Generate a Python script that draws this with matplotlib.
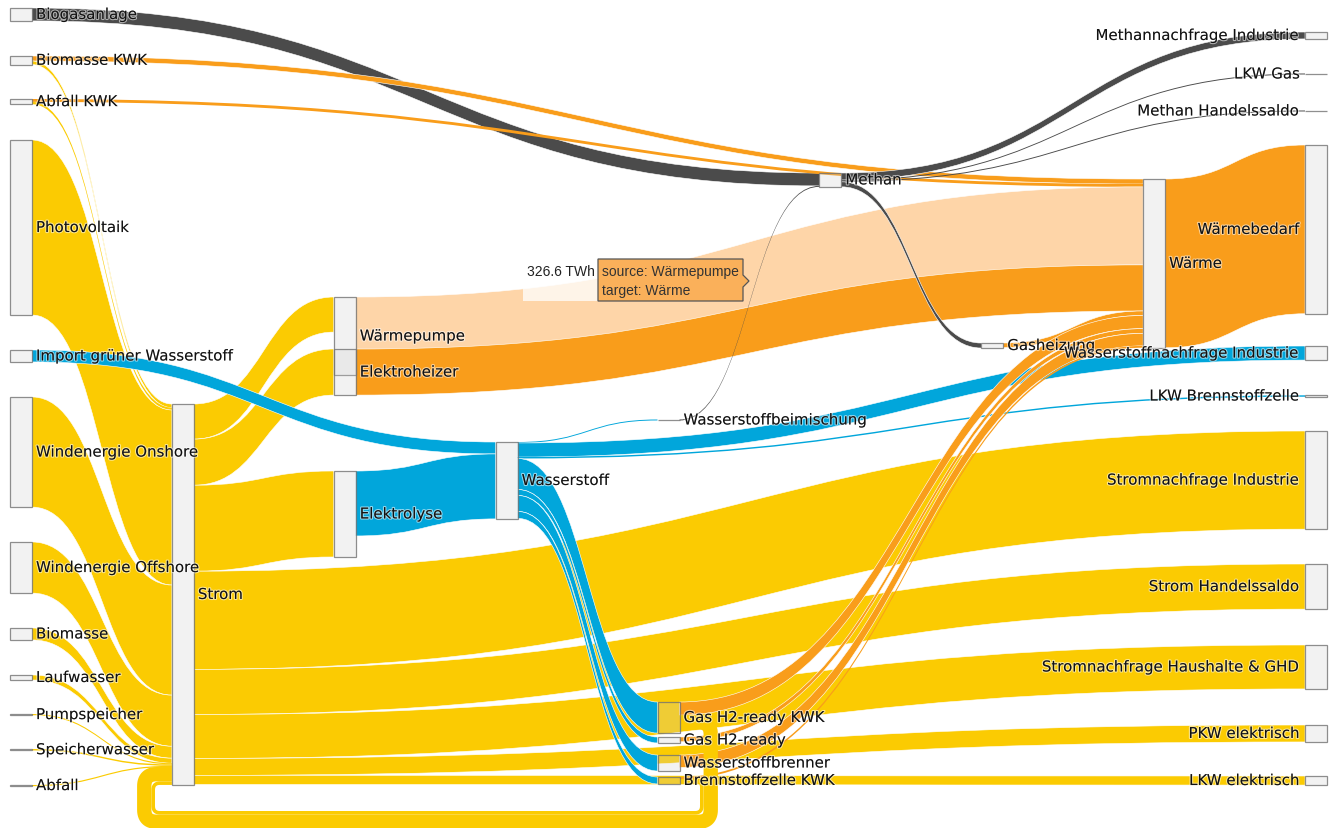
import matplotlib
matplotlib.use('Agg')
import matplotlib.pyplot as plt
from matplotlib.path import Path
from matplotlib.patches import PathPatch, Rectangle, Polygon
import matplotlib.patheffects as pe
import numpy as np

# Knoten (Spalte und obere Kante in Pixel, wie node.x / node.y im Original)
node_names = ['Biogasanlage', 'Biomasse KWK', 'Abfall KWK', 'Photovoltaik',
              'Import grüner Wasserstoff', 'Windenergie Onshore', 'Windenergie Offshore',
              'Biomasse', 'Laufwasser', 'Pumpspeicher', 'Speicherwasser', 'Abfall',
              'Strom', 'Wärmepumpe', 'Elektroheizer', 'Elektrolyse', 'Wasserstoff',
              'Wasserstoffbeimischung', 'Gas H2-ready KWK', 'Gas H2-ready',
              'Wasserstoffbrenner', 'Brennstoffzelle KWK', 'Methan', 'Gasheizung', 'Wärme',
              'Methannachfrage Industrie', 'LKW Gas', 'Methan Handelssaldo', 'Wärmebedarf',
              'Wasserstoffnachfrage Industrie', 'LKW Brennstoffzelle', 'Stromnachfrage Industrie',
              'Strom Handelssaldo', 'Stromnachfrage Haushalte & GHD', 'PKW elektrisch',
              'LKW elektrisch']
node_col = [0, 0, 0, 0, 0, 0, 0, 0, 0, 0, 0, 0,
            1, 2, 2, 2, 3, 4, 4, 4, 4, 4, 5, 6, 7,
            8, 8, 8, 8, 8, 8, 8, 8, 8, 8, 8]
node_top = [9, 57, 100, 141, 351, 398, 543, 629, 676, 715, 750, 786,
            405, 298, 350, 472, 443, 420.5, 703, 738, 756, 778, 174, 344, 180,
            33, 74.5, 111.5, 146, 347, 396.3, 432, 565, 646, 726, 777]

# Flüsse in TWh
link_source = ['Biogasanlage', 'Biomasse KWK', 'Biomasse KWK', 'Abfall KWK', 'Abfall KWK',
               'Photovoltaik', 'Windenergie Onshore', 'Windenergie Offshore', 'Biomasse',
               'Laufwasser', 'Pumpspeicher', 'Speicherwasser', 'Abfall',
               'Strom', 'Strom', 'Strom', 'Strom', 'Strom', 'Strom', 'Strom', 'Strom',
               'Import grüner Wasserstoff', 'Elektrolyse', 'Wärmepumpe', 'Elektroheizer',
               'Wasserstoff', 'Wasserstoff', 'Wasserstoff', 'Wasserstoff', 'Wasserstoff',
               'Wasserstoff', 'Wasserstoff', 'Wasserstoffbeimischung',
               'Methan', 'Methan', 'Methan', 'Methan', 'Gasheizung',
               'Gas H2-ready KWK', 'Gas H2-ready', 'Wasserstoffbrenner', 'Brennstoffzelle KWK',
               'Gas H2-ready KWK', 'Brennstoffzelle KWK', 'Wärme']
link_target = ['Methan', 'Wärme', 'Strom', 'Wärme', 'Strom',
               'Strom', 'Strom', 'Strom', 'Strom', 'Strom', 'Strom', 'Strom', 'Strom',
               'Wärmepumpe', 'Elektroheizer', 'Elektrolyse', 'Stromnachfrage Industrie',
               'Strom Handelssaldo', 'Stromnachfrage Haushalte & GHD', 'PKW elektrisch',
               'LKW elektrisch',
               'Wasserstoff', 'Wasserstoff', 'Wärme', 'Wärme',
               'Wasserstoffbeimischung', 'Wasserstoffnachfrage Industrie', 'LKW Brennstoffzelle',
               'Gas H2-ready KWK', 'Gas H2-ready', 'Wasserstoffbrenner', 'Brennstoffzelle KWK',
               'Methan',
               'Methannachfrage Industrie', 'LKW Gas', 'Methan Handelssaldo', 'Gasheizung',
               'Wärme', 'Wärme', 'Wärme', 'Wärme', 'Wärme',
               'Strom', 'Strom', 'Wärmebedarf']
link_value = [54, 21, 15, 12, 10,
              733, 461, 214, 50, 21, 5, 6, 5,
              147, 193, 360, 411, 189, 184, 71, 38,
              50, 272, 326.6, 193,
              4, 59, 6, 130, 25, 67, 29,
              4,
              29, 4, 4, 21,
              19, 55, 20, 52, 8,
              60, 15, 706.6]
link_kind = ['gas', 'heat', 'power', 'heat', 'power',
             'power', 'power', 'power', 'power', 'power', 'power', 'power', 'power',
             'power', 'power', 'power', 'power', 'power', 'power', 'power', 'power',
             'h2', 'h2', 'hover', 'heat',
             'h2', 'h2', 'h2', 'h2', 'h2', 'h2', 'h2',
             'gas',
             'gas', 'gas', 'gas', 'gas',
             'heat', 'heat', 'heat', 'heat', 'heat',
             'power', 'power', 'heat']

colors = {'power': '#fbcb02', 'heat': '#f99d1b', 'h2': '#01a6db',
          'gas': '#4b4b4b', 'hover': '#fed5a8'}

W, H = 1336, 829
k = 78 / 326.6          # Pixel pro TWh
nw = 22                  # Knotenbreite
idx = {n: i for i, n in enumerate(node_names)}
nx = [10 + c * 161.875 for c in node_col]

n = len(node_names)
sin = np.zeros(n)
sout = np.zeros(n)
for s, t, v in zip(link_source, link_target, link_value):
    sout[idx[s]] += v
    sin[idx[t]] += v
nh = np.maximum(sin, sout) * k

fig = plt.figure(figsize=(W / 100, H / 100), dpi=100)
ax = fig.add_axes([0, 0, 1, 1])
ax.set_xlim(0, W)
ax.set_ylim(H, 0)
ax.axis('off')


def rounded(pts, radii):
    out = [pts[0]]
    for i in range(1, len(pts) - 1):
        p = np.array(pts[i], float)
        a = np.array(pts[i - 1], float)
        b = np.array(pts[i + 1], float)
        d1 = (p - a) / np.linalg.norm(p - a)
        d2 = (b - p) / np.linalg.norm(b - p)
        r = radii
        p0 = p - d1 * r
        p1 = p + d2 * r
        for t in np.linspace(0, 1, 14):
            q = (1 - t) ** 2 * p0 + 2 * (1 - t) * t * p + t ** 2 * p1
            out.append(tuple(q))
    out.append(pts[-1])
    return out


off_out = np.zeros(n)
off_in = np.zeros(n)
circ = []
for i, (s, t, v) in enumerate(zip(link_source, link_target, link_value)):
    si, ti = idx[s], idx[t]
    w = v * k
    y0 = node_top[si] + off_out[si]
    y1 = node_top[ti] + off_in[ti]
    off_out[si] += w
    off_in[ti] += w
    col = colors[link_kind[i]]
    if node_col[ti] <= node_col[si]:
        circ.append((i, si, ti, y0, y1, w, col))
        continue
    x0 = nx[si] + nw
    x1 = nx[ti]
    xm = (x0 + x1) / 2
    verts = [(x0, y0), (xm, y0), (xm, y1), (x1, y1),
             (x1, y1 + w), (xm, y1 + w), (xm, y0 + w), (x0, y0 + w), (x0, y0)]
    codes = [Path.MOVETO, Path.CURVE4, Path.CURVE4, Path.CURVE4,
             Path.LINETO, Path.CURVE4, Path.CURVE4, Path.CURVE4, Path.CLOSEPOLY]
    ec = 'white' if w > 3 else 'none'
    ax.add_patch(PathPatch(Path(verts, codes), facecolor=col, edgecolor=ec,
                           lw=0.4, zorder=2 + i * 0.01))

# Rückflüsse zum Strom-Knoten als Schleife unten herum
cur_r, cur_b, cur_l = 700, 812, 155
for i, si, ti, y0, y1, w, col in reversed(circ):
    xr = cur_r + w / 2
    yb = cur_b + w / 2
    xl = cur_l - w / 2
    cur_r += w
    cur_b += w
    cur_l -= w
    pts = [(nx[si] + nw, y0 + w / 2), (xr, y0 + w / 2), (xr, yb), (xl, yb),
           (xl, y1 + w / 2), (nx[ti], y1 + w / 2)]
    line = rounded(pts, w / 2 + 5)
    ax.add_patch(PathPatch(Path(line), fill=False, edgecolor=col, lw=w * 0.72,
                           capstyle='butt', joinstyle='round', zorder=2 + i * 0.01))

halo = [pe.withStroke(linewidth=1.6, foreground=(1, 1, 1, 0.55))]
for i, name in enumerate(node_names):
    h = max(nh[i], 0.6)
    ax.add_patch(Rectangle((nx[i], node_top[i]), nw, h, facecolor=(0.81, 0.81, 0.81, 0.25),
                           edgecolor=(0.45, 0.45, 0.45, 0.8), lw=0.9, zorder=5))
    yc = node_top[i] + nh[i] / 2
    if node_col[i] == 8:
        ax.text(nx[i] - 5, yc, name, ha='right', va='center', fontsize=10.8,
                color='#111111', zorder=6, path_effects=halo)
    else:
        ax.text(nx[i] + nw + 4, yc, name, ha='left', va='center', fontsize=10.8,
                color='#111111', zorder=6, path_effects=halo)

# Hover-Beschriftung
ax.add_patch(Rectangle((523, 260), 75, 42, facecolor=(1, 1, 1, 0.75), edgecolor='none', zorder=7))
ax.text(527, 272, '326.6 TWh', ha='left', va='center', fontsize=10,
        family='Liberation Sans', color='#222222', zorder=8)
box = [(598, 260), (743, 260), (743, 276), (749, 282), (743, 288), (743, 302), (598, 302)]
ax.add_patch(Polygon(box, closed=True, facecolor='#fab05a', edgecolor='#555555', lw=0.9, zorder=7))
ax.text(602, 272, 'source: Wärmepumpe', ha='left', va='center', fontsize=10,
        family='Liberation Sans', color='#333333', zorder=8)
ax.text(602, 291, 'target: Wärme', ha='left', va='center', fontsize=10,
        family='Liberation Sans', color='#333333', zorder=8)

fig.savefig('out.png', dpi=100)
